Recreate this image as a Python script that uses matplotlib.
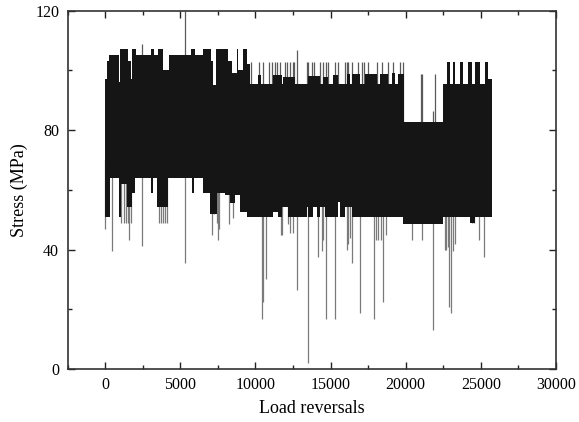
import matplotlib
matplotlib.use("Agg")
import matplotlib.pyplot as plt
import numpy as np
from matplotlib.ticker import MultipleLocator

# ---- data ----
# upper envelope of the dense load signal (step, post)
upper_x = [0, 133, 288, 931, 1020, 1507, 1728, 1818, 2039, 3059, 3280, 3502, 3879,
           4256, 5719, 5984, 6538, 7049, 7204, 7359, 7647, 8200, 8422, 8753, 8864,
           9196, 9417, 9642, 10196, 10397, 11192, 11750, 11860, 12634, 13519, 14298,
           14520, 14852, 15183, 15517, 16073, 16294, 16405, 16958, 17290, 18064,
           18285, 18838, 19069, 19285, 19506, 19904, 22497, 22723, 22943, 23162,
           23275, 23608, 23787, 24160, 24386, 24605, 24938, 25270, 25489, 25716]
upper_y = [97, 103, 105, 96, 107, 103, 97, 107, 105, 107, 105, 107, 100,
           105, 107, 105, 107, 103, 95, 107, 107, 103, 99, 107, 100,
           107, 102, 95.5, 98.5, 95.5, 98.5, 95.5, 97.7, 95.5, 98, 95.5,
           97.7, 95.5, 98.5, 95.5, 98.8, 95.5, 98.8, 95.5, 98.8, 95.5,
           98.8, 95.5, 99, 95.5, 98.8, 82.6, 95.5, 102.7, 95.5, 102.7,
           95.5, 102.7, 95.5, 102.7, 95.5, 102.7, 95.5, 102.7, 97, 97]
# lower envelope (step, post)
lower_x = [0, 333, 931, 1042, 1444, 1776, 1995, 3059, 3213, 3435, 4209, 5763,
           5941, 6538, 6984, 7426, 7980, 8311, 8643, 8974, 9422, 11193, 11525,
           11750, 12190, 13413, 13520, 13852, 14075, 14298, 14630, 15515, 15628,
           15960, 16405, 19840, 22497, 24270, 24605, 25716]
lower_y = [50.9, 63.8, 51, 62, 54.2, 58.8, 63.8, 58.8, 63.8, 54.2, 63.8, 58.8,
           63.8, 58.8, 52, 58.8, 58.2, 55.5, 58.2, 52.5, 50.9, 52.5, 50.9,
           54.2, 50.9, 54.2, 50.9, 54.2, 50.9, 54.2, 50.9, 56, 50.9,
           54.2, 50.9, 48.7, 50.9, 48.8, 50.9, 50.9]
# isolated downward peaks: position and minimum stress
down_x = [20, 485, 1616, 2440, 5300, 7135, 7535, 10420, 10530, 10690, 11750,
          12520, 12750, 13520, 14185, 14410, 14700, 15295, 16425, 16960, 17890,
          18355, 18505, 18705, 20400, 21115, 21830, 22895, 23010, 23120, 24890,
          25200, 1042, 1264, 1397, 1552, 1729, 3613, 3702, 3835, 3990, 4101,
          7250, 7450, 7580, 8267, 8532, 11700, 12190, 12302, 14520, 16073,
          16180, 16294, 18000, 18130, 20100, 22610, 22700, 22800, 23275,
          24400, 24550]
down_y = [47.0, 39.4, 43.1, 41.2, 35.5, 44.8, 43.1, 16.9, 22.5, 30.0, 45.0,
          45.4, 26.4, 1.9, 37.5, 39.6, 16.9, 16.9, 35.6, 18.7, 16.9,
          43.1, 22.5, 44.8, 43.1, 43.1, 13.2, 20.7, 18.8, 39.6, 43.1,
          37.5, 48.8, 48.8, 48.8, 48.8, 48.8, 48.8, 48.8, 48.8, 48.8, 48.8,
          52, 49, 47, 48.7, 50.5, 44.8, 48.7, 45.4, 43.1, 39.8,
          42, 44, 43.1, 43.1, 48.8, 40, 39.8, 41, 42,
          48.8, 48.8]
# isolated upward peaks: position and maximum stress
up_x = [2440, 5300, 12750, 9686, 10262, 10528, 10925, 11086, 11307, 11458,
        11639, 11971, 12081, 12303, 12484, 12569, 13413, 13519, 13745, 13898,
        14297, 14519, 14695, 14852, 15295, 15515, 15960, 16178, 16073, 16405,
        16807, 17068, 17244, 17510, 18064, 18400, 18838, 19170, 19617, 19838,
        21014, 21100, 21945, 21800]
up_y = [108.9, 120, 106.9, 102.7, 102.7, 102.7, 102.7, 102.7, 102.7, 102.7,
        102.7, 102.7, 102.7, 102.7, 102.7, 102.7, 102.7, 102.7, 102.7, 102.7,
        102.7, 102.7, 102.7, 102.7, 102.7, 102.7, 102.7, 102.7, 102.7, 102.7,
        102.7, 102.7, 102.7, 102.7, 102.7, 102.7, 102.7, 102.7, 102.7, 102.7,
        98.8, 98.8, 98.8, 86.5]

x_ticks = [0, 5000, 10000, 15000, 20000, 25000, 30000]
y_ticks = [0, 40, 80, 120]

# ---- plot ----
plt.rcParams['font.family'] = ['Liberation Serif', 'DejaVu Serif']
fig = plt.figure(figsize=(5.79, 4.22), dpi=100)
ax = fig.add_axes([0.1166, 0.1256, 0.8437, 0.8495])

ax.vlines(down_x, down_y, 70, colors='#7a7a7a', linewidth=0.9, zorder=1)
ax.vlines(up_x, 80, up_y, colors='#5a5a5a', linewidth=0.9, zorder=1)
ax.fill_between(upper_x, 75, upper_y, step='post', color='#151515',
                linewidth=0, zorder=2)
ax.fill_between(lower_x, lower_y, 76, step='post', color='#151515',
                linewidth=0, zorder=2)

ax.set_xlim(-2500, 30000)
ax.set_ylim(0, 120)
ax.set_xticks(x_ticks)
ax.set_yticks(y_ticks)
ax.xaxis.set_minor_locator(MultipleLocator(2500))
ax.yaxis.set_minor_locator(MultipleLocator(20))
ax.tick_params(which='both', direction='in', top=True, right=True,
               labelsize=11.5, width=1.0, color='#222222')
ax.tick_params(which='major', length=5, pad=6)
ax.tick_params(which='minor', length=2.8)
for s in ax.spines.values():
    s.set_linewidth(1.2)
    s.set_color('#333333')

ax.set_xlabel('Load reversals', fontsize=13, labelpad=5)
ax.set_ylabel('Stress (MPa)', fontsize=13, labelpad=5)

fig.savefig('out.png', dpi=100)
